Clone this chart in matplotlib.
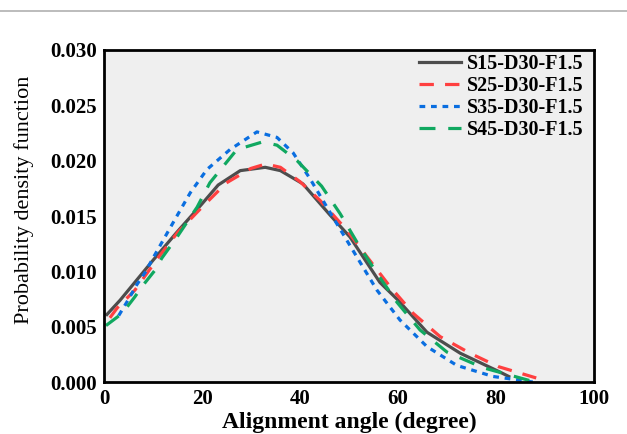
import numpy as np
import matplotlib
matplotlib.use('Agg')
import matplotlib.pyplot as plt
from matplotlib.lines import Line2D

# Datos (ángulo en grados, densidad de probabilidad)
s15_x = [0.6, 3.3, 10, 15, 20, 23.3, 27.8, 32.9, 36, 40.6, 46.1, 50.2, 56.3, 60, 65.9, 72.7, 80.8, 82.6]
s15_y = [0.0061, 0.0074, 0.0110, 0.0136, 0.0161, 0.0178, 0.0191, 0.0194, 0.0191, 0.0179, 0.0151, 0.0131, 0.0090, 0.0074, 0.0045, 0.0026, 0.0009, 0.0005]

s25_x = [1.2, 2.7, 6.3, 11, 15, 20, 25, 30, 33, 36, 40, 44.1, 49.6, 53.7, 58.4, 63.1, 68.6, 74.7, 80.4, 88.7]
s25_y = [0.0058, 0.0067, 0.0083, 0.0112, 0.0135, 0.0158, 0.0180, 0.0193, 0.0197, 0.0194, 0.0181, 0.0164, 0.0137, 0.0113, 0.0086, 0.0062, 0.0041, 0.0026, 0.0014, 0.0003]

s35_x = [3, 4.9, 6.7, 8.4, 10, 14.1, 17.6, 21, 25.7, 31.2, 35.3, 38.6, 42, 46.7, 51.6, 55.7, 60.4, 65.9, 72, 79.4, 87.5]
s35_y = [0.0060, 0.0074, 0.0088, 0.0099, 0.0112, 0.0144, 0.0171, 0.0192, 0.0210, 0.0226, 0.0221, 0.0207, 0.0184, 0.0149, 0.0113, 0.0083, 0.0056, 0.0032, 0.0015, 0.0005, 0.0000]

s45_x = [0.4, 3.7, 6.3, 7.7, 10.4, 11.8, 14.9, 19, 21.6, 27.1, 32.4, 35.3, 39.4, 44.4, 48.2, 52.2, 55.9, 59.8, 64.5, 70, 77.3, 87.1]
s45_y = [0.0051, 0.0062, 0.0077, 0.0086, 0.0101, 0.0112, 0.0131, 0.0158, 0.0180, 0.0210, 0.0217, 0.0214, 0.0200, 0.0177, 0.0152, 0.0122, 0.0097, 0.0072, 0.0047, 0.0027, 0.0013, 0.0001]

etiquetas = ['S15-D30-F1.5', 'S25-D30-F1.5', 'S35-D30-F1.5', 'S45-D30-F1.5']
x_ticks = [0, 20, 40, 60, 80, 100]
y_ticks = [0.000, 0.005, 0.010, 0.015, 0.020, 0.025, 0.030]

plt.rcParams['font.family'] = ['Liberation Serif', 'DejaVu Serif']

fig = plt.figure(figsize=(6.27, 4.34), dpi=100)
ax = fig.add_axes([0.1659, 0.1198, 0.7815, 0.765])
ax.set_facecolor('#efefef')

# Línea gris horizontal en la parte superior
fig.add_artist(Line2D([0, 1], [0.975, 0.975], color='#b0b0b0', lw=1.2, transform=fig.transFigure))

lw = 2.3
ax.plot(s15_x, s15_y, color='#4d4d4d', lw=lw, label=etiquetas[0])
ax.plot(s25_x, s25_y, color='#ff4040', lw=lw, dashes=(4.5, 3.5), label=etiquetas[1])
ax.plot(s35_x, s35_y, color='#0a6ee0', lw=lw, dashes=(1.8, 1.8), label=etiquetas[2])
ax.plot(s45_x, s45_y, color='#10a860', lw=lw, dashes=(5, 4), label=etiquetas[3])

ax.set_xlim(0, 100)
ax.set_ylim(0, 0.030)
ax.set_xticks(x_ticks)
ax.set_yticks(y_ticks)
ax.set_yticklabels([f'{v:.3f}' for v in y_ticks])
ax.tick_params(length=0, pad=5, labelsize=15)
for lab in ax.get_xticklabels() + ax.get_yticklabels():
    lab.set_fontweight('bold')

for sp in ax.spines.values():
    sp.set_linewidth(2)
    sp.set_color('black')

ax.set_xlabel('Alignment angle (degree)', fontsize=17, fontweight='bold', labelpad=2)
ax.set_ylabel('Probability density function', fontsize=16)
# Posición de la etiqueta del eje y (un poco más arriba que el centro)
ax.yaxis.set_label_coords(-0.143, 0.55)

leg = ax.legend(loc='upper right', bbox_to_anchor=(1.0, 1.018), frameon=False,
                handlelength=2.1, handletextpad=0.3, labelspacing=0.1, borderaxespad=0.1,
                prop={'weight': 'bold', 'size': 14.4})

fig.savefig('out.png', dpi=100)
